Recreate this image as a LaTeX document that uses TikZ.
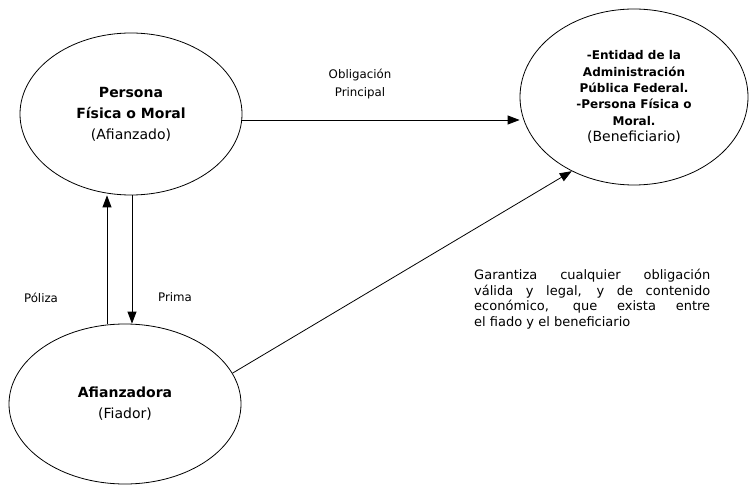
\documentclass[tikz,border=0pt]{standalone}
\usepackage{fontspec}
\setmainfont{DejaVu Sans}
\usetikzlibrary{shapes.geometric,arrows.meta}

\begin{document}
\begin{tikzpicture}
  [x=1pt,y=-1pt,
   party/.style={draw,ellipse,line width=0.8pt,inner sep=0pt,align=center,
     font=\fontsize{14}{21}\selectfont},
   label text/.style={font=\fontsize{11.8}{18}\selectfont,align=center},
   link/.style={line width=0.8pt,-{Triangle[length=12pt,width=9pt]}}]
  \useasboundingbox (0,0) rectangle (751,486);
  % the three parties
  \node
    [party,minimum width=222pt,minimum height=162pt]
    (afianzado) at (131,114)
    {\textbf{Persona}\\\textbf{Física o Moral}\\(Afianzado)};
  \node
    [party,minimum width=228pt,minimum height=176pt,
     font=\fontsize{12}{16.4}\selectfont]
    (beneficiario) at (634,97)
    {\textbf{-Entidad de la}\\\textbf{Administración}\\
     \textbf{Pública Federal.}\\\textbf{-Persona Física o}\\
     \textbf{Moral.}\\{\fontsize{14}{16.4}\selectfont(Beneficiario)}};
  \node
    [party,minimum width=232pt,minimum height=160pt]
    (afianzadora) at (125,404)
    {\textbf{Afianzadora}\\(Fiador)};
  % connectors
  \draw [link]
    ([yshift=-6pt]afianzado.east)
    -- ([yshift=-6pt]afianzado.east -| beneficiario.west)
  ;
  \draw [link]
    ([xshift=-18pt]afianzadora.north)
    -- ([xshift=-18pt]afianzadora.north |- afianzado.south)
  ;
  \draw [link]
    ([xshift=1pt]afianzado.south)
    -- ([xshift=1pt]afianzado.south |- afianzadora.north)
  ;
  \draw [link]
    (afianzadora.16)
    -- (beneficiario.230)
  ;
  % labels
  \node [label text] (obligacion) at (360,84) {Obligación\\Principal};
  \node [label text] (poliza) at (41,298) {Póliza};
  \node [label text] (prima) at (175,297) {Prima};
  \node
    [text width=236pt,align=justify,anchor=north west,inner sep=0pt,
     font=\fontsize{13}{15.5}\selectfont]
    (garantiza) at (474,269)
    {Garantiza cualquier obligación\linebreak válida y legal, y de contenido\linebreak
     económico, que exista entre\linebreak el fiado y el beneficiario};
\end{tikzpicture}
\end{document}
